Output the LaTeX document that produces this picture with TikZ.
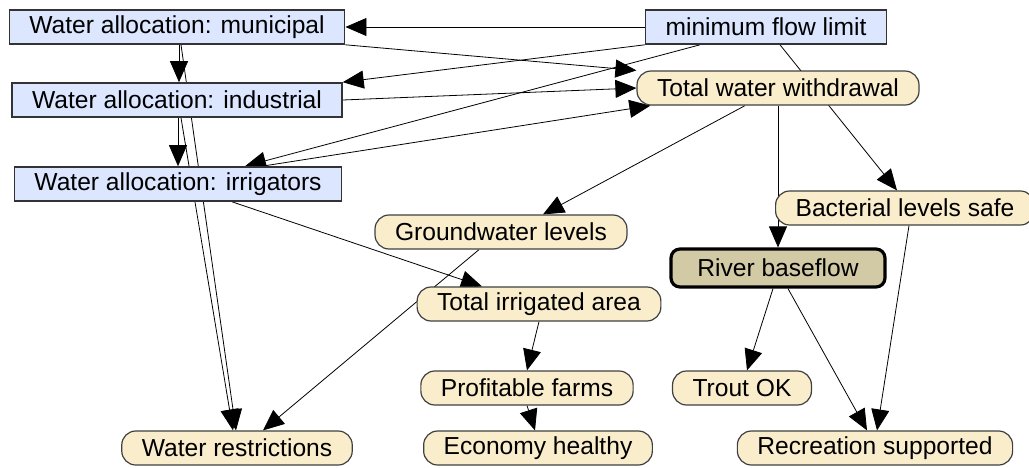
\documentclass[tikz,border=0pt]{standalone}
\usepackage{fontspec}
\setmainfont{Liberation Sans}
\usetikzlibrary{arrows.meta,positioning,backgrounds}
\definecolor{allocblue}{RGB}{220,230,255}
\definecolor{varcream}{RGB}{249,237,204}
\definecolor{keykhaki}{RGB}{210,201,165}

\begin{document}
\begin{tikzpicture}[
    x=0.5pt, y=-0.5pt,
    >={Triangle[length=10.5pt,width=9pt]},
    line width=0.6pt,
    font=\fontsize{12.3pt}{14pt}\selectfont,
    alloc node/.style={rectangle,fill=allocblue,draw=black!80,line width=0.8pt,minimum height=17pt,inner xsep=10pt,inner ysep=0pt},
    var node/.style={rectangle,rounded corners=7pt,fill=varcream,draw=black!75,line width=0.6pt,minimum height=17pt,inner xsep=10pt,inner ysep=0pt},
    key node/.style={rectangle,rounded corners=4.5pt,fill=keykhaki,draw=black,line width=1.6pt,minimum height=19pt,minimum width=107pt,inner ysep=0pt}
]
\useasboundingbox (0,0) rectangle (1029,467);

% Allocations
\node[alloc node] (mun) at (177,27) {Water allocation: municipal};
\node[alloc node] (ind) at (177,100) {Water allocation: industrial};
\node[alloc node] (irr) at (178,184) {Water allocation: irrigators};
\node[alloc node] (minflow) at (766,27) {minimum flow limit};

% Variables
\node[var node] (withdrawal) at (778,88) {Total water withdrawal};
\node[var node] (bacteria) at (905,208) {Bacterial levels safe};
\node[var node] (groundwater) at (501,232) {Groundwater levels};
\node[key node] (baseflow) at (778,268) {River baseflow};
\node[var node] (irrarea) at (539,304) {Total irrigated area};
\node[var node] (farms) at (527,388) {Profitable farms};
\node[var node] (economy) at (538,448) {Economy healthy};
\node[var node] (trout) at (742,388) {Trout OK};
\node[var node] (recreation) at (875,448) {Recreation supported};
\node[var node] (restrictions) at (237,448) {Water restrictions};

% Arrows
\begin{scope}[on background layer]
\draw[->] (minflow.west) -- (mun.east);
\draw[->] (mun.south east) -- (withdrawal.north west);
\draw[->] (minflow.south west) -- (ind.north east);
\draw[->] (ind.east) -- (withdrawal.west);
\draw[->] ([xshift=-33pt]minflow.south) -- ([xshift=33.5pt]irr.north);
\draw[->] ([xshift=42pt]irr.north) -- ([xshift=7pt]withdrawal.south west);
\draw[->] ([xshift=7pt]minflow.south) -- ([xshift=-4pt]bacteria.north);

\draw[->] ([xshift=-16.5pt]withdrawal.south) -- ([xshift=21pt]groundwater.north);
\draw[->] (withdrawal.south) -- (baseflow.north);
\draw[->] ([xshift=2pt]bacteria.south) -- ([xshift=1pt]recreation.north);
\draw[->] ([xshift=-2.5pt]baseflow.south) -- ([xshift=2.5pt]trout.north);
\draw[->] ([xshift=5pt]baseflow.south) -- ([xshift=-4pt]recreation.north);

\draw[->] ([xshift=-11pt]groundwater.south) -- ([xshift=13pt]restrictions.north);
\draw[->] ([xshift=27pt]irr.south) -- ([xshift=-28.5pt]irrarea.north);
\draw[->] (irrarea.south) -- (farms.north);
\draw[->] (farms.south) -- ([xshift=-1.5pt]economy.north);

\draw[->] ([xshift=1pt]mun.south) -- ([xshift=1pt]ind.north);
\draw[->] ([xshift=0.5pt]ind.south) -- (irr.north);
\draw[->] ([xshift=2pt]mun.south) -- ([xshift=-0.5pt]restrictions.north);
\draw[->] ([xshift=2pt]ind.south) -- ([xshift=-2pt]restrictions.north);
\end{scope}

\end{tikzpicture}
\end{document}
